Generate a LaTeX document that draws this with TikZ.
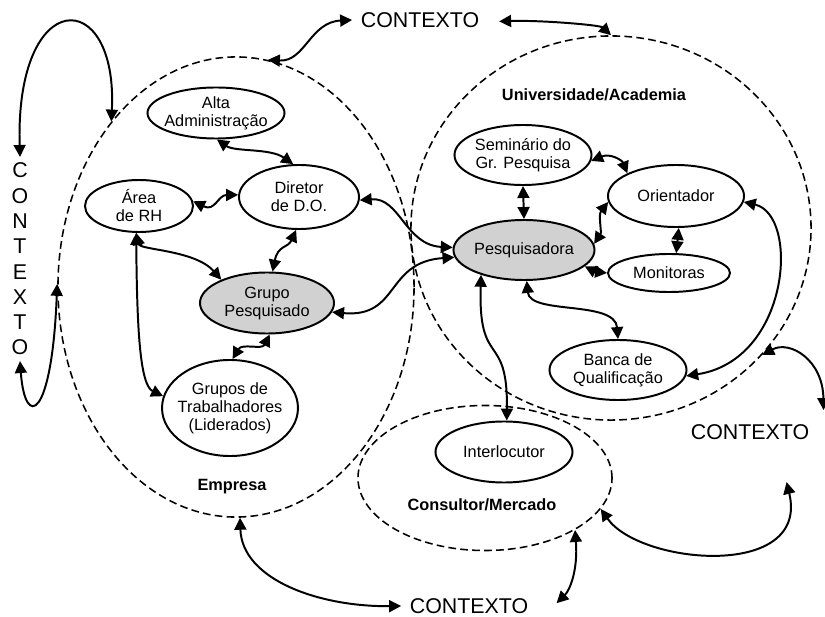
\documentclass[tikz,border=0pt]{standalone}
\usepackage{fontspec}
\setmainfont{Liberation Sans}
\usetikzlibrary{shapes.geometric, arrows.meta, positioning}

\newcommand{\unitfont}{\fontsize{11.6}{12.8}\selectfont}
\newcommand{\ctxfont}{\fontsize{15.2}{18}\selectfont}

\tikzset{
  unit/.style={ellipse, draw, line width=1.4pt, inner sep=0pt, align=center, font=\unitfont},
  focus/.style={unit, fill=black!18},
  sphere/.style={ellipse, draw, line width=1.1pt, dash pattern=on 5.5pt off 3pt},
  ctx/.style={font=\ctxfont, inner xsep=6pt, inner ysep=4pt, align=center},
  tag/.style={font=\unitfont\bfseries},
  link/.style={line width=1.4pt, >={Triangle[length=8.5pt,width=8.5pt]}, <->}
}

\begin{document}
\begin{tikzpicture}[x=0.025cm, y=-0.025cm]
\useasboundingbox (0,0) rectangle (825,617);

% Dashed spheres
\node[sphere, minimum width=8.9cm, minimum height=11.5cm] (empresa) at (236,287) {};
\node[sphere, minimum width=10cm, minimum height=9.6cm] (univ) at (611,228) {};
\node[sphere, minimum width=6.35cm, minimum height=3.625cm] (consultor) at (485,478) {};

\node[tag] (empresatag) at (232,487) {Empresa};
\node[tag] (univtag) at (594,95) {Universidade/Academia};
\node[tag] (consultortag) at (482,505) {Consultor/Mercado};

% Context
\node[ctx] (ctxtop) at (420,20) {CONTEXTO};
\node[ctx] (ctxbottom) at (469,606) {CONTEXTO};
\node[ctx] (ctxright) at (750,432) {CONTEXTO};
\node[ctx] (ctxleft) at (20,259) {C\\O\\N\\T\\E\\X\\T\\O};

% Empresa
\node[unit, minimum width=3.425cm, minimum height=1.275cm, inner xsep=-3pt] (alta) at (216,113) {Alta\\Administração};
\node[unit, minimum width=3cm, minimum height=1.6cm] (dir) at (299,197) {Diretor\\de D.O.};
\node[unit, minimum width=2.7cm, minimum height=1.3cm] (rh) at (139,206) {Área\\de RH};
\node[focus, minimum width=3.35cm, minimum height=1.525cm] (grupo) at (267,303) {Grupo\\Pesquisado};
\node[unit, minimum width=3.375cm, minimum height=2.4cm, inner xsep=-3pt] (trab) at (230,408) {Grupos de\\Trabalhadores\\(Liderados)};

% Universidade
\node[unit, minimum width=3.425cm, minimum height=1.5cm] (sem) at (523,155) {Seminário do\\Gr. Pesquisa};
\node[unit, minimum width=3.4cm, minimum height=1.55cm] (ori) at (676,196) {Orientador};
\node[focus, minimum width=3.45cm, minimum height=1.5cm] (pesq) at (524,250) {Pesquisadora};
\node[unit, minimum width=3.05cm, minimum height=0.95cm] (mon) at (669,273) {Monitoras};
\node[unit, minimum width=3.425cm, minimum height=1.5cm] (banca) at (618,370) {Banca de\\Qualificação};

% Consultor
\node[unit, minimum width=3.425cm, minimum height=1.525cm] (inter) at (504,452) {Interlocutor};

% Links inside Empresa
\draw[link] (alta.272) .. controls (235,152) and (270,148) .. (dir.100);
\draw[link] (rh.5) .. controls (215,212) and (218,195) .. (dir.178);
\draw[link] (dir.265) .. controls (288,248) and (278,245) .. (grupo.80);
\draw[link] (rh.264) .. controls (140,250) and (195,250) .. (grupo.153);
\draw[link] (rh.264) .. controls (137,330) and (140,385) .. (trab.170);
\draw[link] (grupo.275) .. controls (262,350) and (242,343) .. (trab.87);

% Links to Pesquisadora
\draw[link] (dir.-3) .. controls (400,197) and (405,245) .. (pesq.178);
\draw[link] (grupo.-8) .. controls (400,318) and (385,262) .. (pesq.186);
\draw[link] (sem.south) -- (pesq.north);
\draw[link] (sem.-5) .. controls (610,153) and (622,160) .. (ori.155);
\draw[link] (pesq.5) .. controls (602,232) and (598,215) .. (ori.185);
\draw[link] (ori.-85) -- (mon.70);
\draw[link] (pesq.-15) .. controls (592,270) and (598,272) .. (mon.180);
\draw[link] (pesq.-85) .. controls (530,315) and (615,300) .. (banca.north);
\draw[link] (ori.-5) .. controls (800,215) and (790,360) .. (banca.-5);
\draw[link] (pesq.-150) .. controls (478,370) and (508,330) .. (inter.85);

% Links to context
\draw[link] (ctxtop.west) .. controls (310,22) and (305,62) .. (empresa.82);
\draw[link] ([shift={(8pt,-1pt)}]ctxtop.east) .. controls (540,20) and (600,25) .. (univ.90);
\draw[link] (ctxleft.north) .. controls (15,-15) and (118,-15) .. (empresa.127);
\draw[link] (ctxleft.south) .. controls (25,430) and (52,420) .. (empresa.179);
\draw[link] (empresa.-89) .. controls (242,580) and (320,607) .. (ctxbottom.west);
\draw[link] (consultor.-30) .. controls (578,570) and (570,590) .. ([shift={(14pt,2pt)}]ctxbottom.east);
\draw[link] (univ.-40) .. controls (790,340) and (823,360) .. ([shift={(4pt,6pt)}]ctxright.north east);
\draw[link] (consultor.-15) .. controls (640,565) and (810,580) .. ([shift={(26pt,-26pt)}]ctxright.south);
\end{tikzpicture}
\end{document}
